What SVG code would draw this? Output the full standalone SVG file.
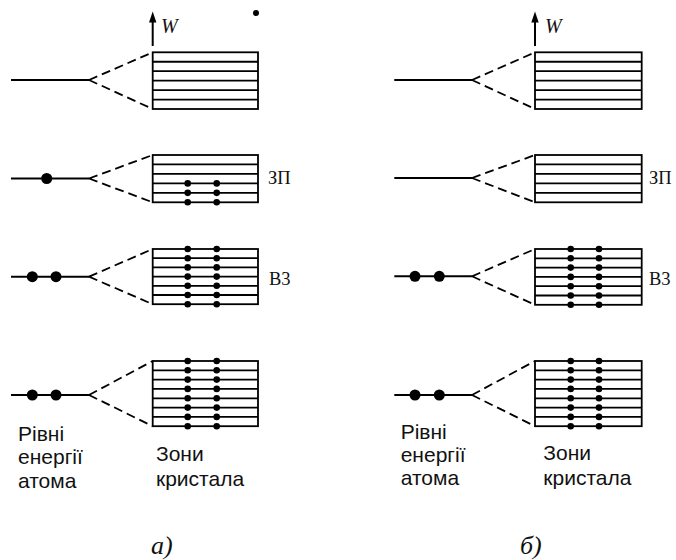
<svg xmlns="http://www.w3.org/2000/svg" width="676" height="560" viewBox="0 0 676 560">
  <style>
    .lvl { stroke: #000; stroke-width: 2; fill: none; }
    .band { stroke: #000; stroke-width: 1.8; fill: none; }
    .dash { stroke: #000; stroke-width: 1.8; fill: none; stroke-dasharray: 9 5; }
    .e { fill: #000; }
    .lbl { font-family: "Liberation Sans", Arial, sans-serif; font-size: 21px; fill: #111; }
    .zone { font-family: "Liberation Serif", "Times New Roman", serif; font-size: 18.5px; fill: #111; }
    .it { font-family: "Liberation Serif", "Times New Roman", serif; font-style: italic; fill: #111; }
  </style>
  <rect width="676" height="560" fill="#fff"/>

  <!-- ===== Panel a) ===== -->
  <g id="axis-a">
    <line class="lvl" x1="152.7" y1="46" x2="152.7" y2="20"/>
    <polygon class="e" points="152.7,11.5 149,22.5 156.4,22.5"/>
    <text class="it" x="161" y="33" font-size="20">W</text>
    <circle class="e" cx="256" cy="13" r="3"/>
  </g>

  <!-- level 1: empty -->
  <g id="atom-a1">
    <line class="lvl" x1="11" y1="80" x2="89" y2="80"/>
  </g>
  <g id="band-a1">
    <rect class="band" x="152.7" y="52.3" width="105.3" height="56.7"/>
    <path class="band" d="M152.7 61.75H258M152.7 71.2H258M152.7 80.65H258M152.7 90.1H258M152.7 99.55H258"/>
  </g>

  <!-- level 2: one electron, conduction band -->
  <g id="atom-a2">
    <line class="lvl" x1="11" y1="178.5" x2="89" y2="178.5"/>
    <circle class="e" cx="46.7" cy="178.5" r="5.5"/>
  </g>
  <g id="band-a2">
    <rect class="band" x="152.7" y="155" width="105.3" height="47.3"/>
    <path class="band" d="M152.7 164.46H258M152.7 173.92H258M152.7 183.38H258M152.7 192.84H258"/>
    <g class="e">
      <circle cx="187.7" cy="183.38" r="3.3"/><circle cx="216.7" cy="183.38" r="3.3"/>
      <circle cx="187.7" cy="192.84" r="3.3"/><circle cx="216.7" cy="192.84" r="3.3"/>
      <circle cx="187.7" cy="202.3" r="3.3"/><circle cx="216.7" cy="202.3" r="3.3"/>
    </g>
    <text class="zone" x="268" y="184">ЗП</text>
  </g>

  <!-- level 3: two electrons, valence band -->
  <g id="atom-a3">
    <line class="lvl" x1="11" y1="276.7" x2="89" y2="276.7"/>
    <circle class="e" cx="32.3" cy="276.7" r="5.5"/>
    <circle class="e" cx="56" cy="276.7" r="5.5"/>
  </g>
  <g id="band-a3">
    <rect class="band" x="152.7" y="249" width="105.3" height="55.2"/>
    <path class="band" d="M152.7 258.2H258M152.7 267.4H258M152.7 276.6H258M152.7 285.8H258M152.7 295H258"/>
    <g class="e">
      <circle cx="187.7" cy="249" r="3.3"/><circle cx="216.7" cy="249" r="3.3"/>
      <circle cx="187.7" cy="258.2" r="3.3"/><circle cx="216.7" cy="258.2" r="3.3"/>
      <circle cx="187.7" cy="267.4" r="3.3"/><circle cx="216.7" cy="267.4" r="3.3"/>
      <circle cx="187.7" cy="276.6" r="3.3"/><circle cx="216.7" cy="276.6" r="3.3"/>
      <circle cx="187.7" cy="285.8" r="3.3"/><circle cx="216.7" cy="285.8" r="3.3"/>
      <circle cx="187.7" cy="295" r="3.3"/><circle cx="216.7" cy="295" r="3.3"/>
      <circle cx="187.7" cy="304.2" r="3.3"/><circle cx="216.7" cy="304.2" r="3.3"/>
    </g>
    <text class="zone" x="269" y="285">В3</text>
  </g>

  <!-- level 4: two electrons, deep band -->
  <g id="atom-a4">
    <line class="lvl" x1="11" y1="395" x2="89" y2="395"/>
    <circle class="e" cx="32.3" cy="395" r="5.5"/>
    <circle class="e" cx="56" cy="395" r="5.5"/>
  </g>
  <g id="band-a4">
    <rect class="band" x="152.7" y="361" width="105.3" height="65.2"/>
    <path class="band" d="M152.7 370.3H258M152.7 379.6H258M152.7 388.9H258M152.7 398.3H258M152.7 407.6H258M152.7 416.9H258"/>
    <g class="e">
      <circle cx="187.7" cy="361" r="3.3"/><circle cx="216.7" cy="361" r="3.3"/>
      <circle cx="187.7" cy="370.3" r="3.3"/><circle cx="216.7" cy="370.3" r="3.3"/>
      <circle cx="187.7" cy="379.6" r="3.3"/><circle cx="216.7" cy="379.6" r="3.3"/>
      <circle cx="187.7" cy="388.9" r="3.3"/><circle cx="216.7" cy="388.9" r="3.3"/>
      <circle cx="187.7" cy="398.3" r="3.3"/><circle cx="216.7" cy="398.3" r="3.3"/>
      <circle cx="187.7" cy="407.6" r="3.3"/><circle cx="216.7" cy="407.6" r="3.3"/>
      <circle cx="187.7" cy="416.9" r="3.3"/><circle cx="216.7" cy="416.9" r="3.3"/>
      <circle cx="187.7" cy="426.2" r="3.3"/><circle cx="216.7" cy="426.2" r="3.3"/>
    </g>
  </g>

  <g id="labels-a">
    <text class="lbl" x="18" y="440.7">Рівні</text>
    <text class="lbl" x="18" y="464.3">енергії</text>
    <text class="lbl" x="18" y="488.3">атома</text>
    <text class="lbl" x="156" y="460.7">Зони</text>
    <text class="lbl" x="156" y="486">кристала</text>
    <text class="it" x="151" y="554" font-size="26">а)</text>
  </g>

  <!-- ===== Panel б) ===== -->
  <g id="axis-b">
    <line class="lvl" x1="535" y1="46" x2="535" y2="20"/>
    <polygon class="e" points="535,11.5 531.3,22.5 538.7,22.5"/>
    <text class="it" x="545" y="33" font-size="20">W</text>
  </g>

  <g id="atom-b1">
    <line class="lvl" x1="394.3" y1="80" x2="472" y2="80"/>
  </g>
  <g id="band-b1">
    <rect class="band" x="535" y="52.3" width="106.7" height="56.7"/>
    <path class="band" d="M535 61.75H641.7M535 71.2H641.7M535 80.65H641.7M535 90.1H641.7M535 99.55H641.7"/>
  </g>

  <g id="atom-b2">
    <line class="lvl" x1="394.3" y1="178" x2="472" y2="178"/>
  </g>
  <g id="band-b2">
    <rect class="band" x="535" y="155" width="106.7" height="47.3"/>
    <path class="band" d="M535 164.46H641.7M535 173.92H641.7M535 183.38H641.7M535 192.84H641.7"/>
    <text class="zone" x="649" y="184">ЗП</text>
  </g>

  <g id="atom-b3">
    <line class="lvl" x1="394.3" y1="276.3" x2="472" y2="276.3"/>
    <circle class="e" cx="415" cy="276.3" r="5.5"/>
    <circle class="e" cx="439.3" cy="276.3" r="5.5"/>
  </g>
  <g id="band-b3">
    <rect class="band" x="535" y="249" width="106.7" height="55.8"/>
    <path class="band" d="M535 258.3H641.7M535 267.6H641.7M535 276.9H641.7M535 286.2H641.7M535 295.5H641.7"/>
    <g class="e">
      <circle cx="570.7" cy="249" r="3.3"/><circle cx="599" cy="249" r="3.3"/>
      <circle cx="570.7" cy="258.3" r="3.3"/><circle cx="599" cy="258.3" r="3.3"/>
      <circle cx="570.7" cy="267.6" r="3.3"/><circle cx="599" cy="267.6" r="3.3"/>
      <circle cx="570.7" cy="276.9" r="3.3"/><circle cx="599" cy="276.9" r="3.3"/>
      <circle cx="570.7" cy="286.2" r="3.3"/><circle cx="599" cy="286.2" r="3.3"/>
      <circle cx="570.7" cy="295.5" r="3.3"/><circle cx="599" cy="295.5" r="3.3"/>
      <circle cx="570.7" cy="304.8" r="3.3"/><circle cx="599" cy="304.8" r="3.3"/>
    </g>
    <text class="zone" x="649" y="285">В3</text>
  </g>

  <g id="atom-b4">
    <line class="lvl" x1="394.3" y1="395" x2="472" y2="395"/>
    <circle class="e" cx="415" cy="395" r="5.5"/>
    <circle class="e" cx="439.3" cy="395" r="5.5"/>
  </g>
  <g id="band-b4">
    <rect class="band" x="535" y="361" width="106.7" height="65.2"/>
    <path class="band" d="M535 370.3H641.7M535 379.6H641.7M535 388.9H641.7M535 398.3H641.7M535 407.6H641.7M535 416.9H641.7"/>
    <g class="e">
      <circle cx="570.7" cy="361" r="3.3"/><circle cx="599" cy="361" r="3.3"/>
      <circle cx="570.7" cy="370.3" r="3.3"/><circle cx="599" cy="370.3" r="3.3"/>
      <circle cx="570.7" cy="379.6" r="3.3"/><circle cx="599" cy="379.6" r="3.3"/>
      <circle cx="570.7" cy="388.9" r="3.3"/><circle cx="599" cy="388.9" r="3.3"/>
      <circle cx="570.7" cy="398.3" r="3.3"/><circle cx="599" cy="398.3" r="3.3"/>
      <circle cx="570.7" cy="407.6" r="3.3"/><circle cx="599" cy="407.6" r="3.3"/>
      <circle cx="570.7" cy="416.9" r="3.3"/><circle cx="599" cy="416.9" r="3.3"/>
      <circle cx="570.7" cy="426.2" r="3.3"/><circle cx="599" cy="426.2" r="3.3"/>
    </g>
  </g>

  <g id="labels-b">
    <text class="lbl" x="400.7" y="439.3">Рівні</text>
    <text class="lbl" x="400.7" y="462">енергії</text>
    <text class="lbl" x="400.7" y="484.5">атома</text>
    <text class="lbl" x="543.3" y="460">Зони</text>
    <text class="lbl" x="543.3" y="485">кристала</text>
    <text class="it" x="520" y="554" font-size="26">б)</text>
  </g>

  <!-- splitting of each atomic level into a crystal band -->
  <g id="connectors">
    <path class="dash" d="M89 80L152.7 52.3M89 80L152.7 109"/>
    <path class="dash" d="M89 178.5L152.7 155M89 178.5L152.7 202.3"/>
    <path class="dash" d="M89 276.7L152.7 249M89 276.7L152.7 304.2"/>
    <path class="dash" d="M89 395L152.7 361M89 395L152.7 426.2"/>
    <path class="dash" d="M472 80L535 52.3M472 80L535 109"/>
    <path class="dash" d="M472 178L535 155M472 178L535 202.3"/>
    <path class="dash" d="M472 276.3L535 249M472 276.3L535 304.8"/>
    <path class="dash" d="M472 395L535 361M472 395L535 426.2"/>
  </g>
</svg>
